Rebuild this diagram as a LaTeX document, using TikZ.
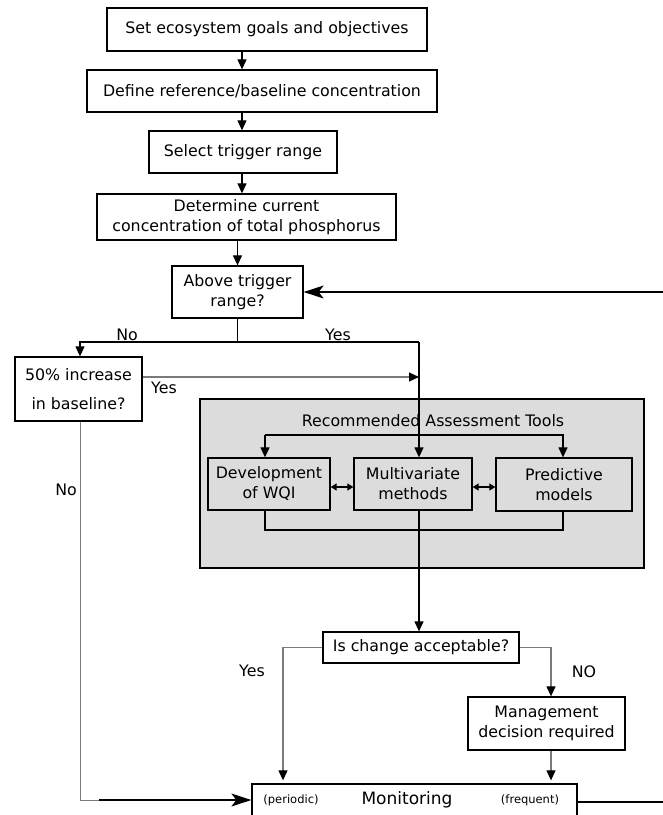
\documentclass[tikz,border=0pt]{standalone}
\usepackage{fontspec}
\setmainfont{DejaVu Sans}
\usetikzlibrary{arrows.meta,calc}
\definecolor{panelgray}{HTML}{DCDCDC}
\definecolor{linegray}{HTML}{7A7A7A}
\begin{document}
\begin{tikzpicture}[x=1pt,y=-1pt,
  box/.style={draw,line width=1.3pt,rectangle,inner sep=0pt,align=center,font=\fontsize{15.8}{20}\selectfont},
  sbox/.style={box,fill=panelgray},
  lbl/.style={inner sep=0pt,font=\fontsize{15.8}{18}\selectfont},
  arr/.style={line width=1.2pt,-{Triangle[length=10pt,width=9pt,color=black]}},
  bigarr/.style={line width=1.2pt,-{Stealth[length=20pt,width=13pt,inset=5pt,color=black]}},
  darr/.style={line width=1.2pt,{Triangle[length=6pt,width=7pt]}-{Triangle[length=6pt,width=7pt]}},
  gline/.style={draw=linegray,line width=1pt},
  plain/.style={line width=1.2pt}
]
\useasboundingbox (0,0) rectangle (663,815);
\clip (0,0) rectangle (663,815);

% top chain
\node[box,minimum width=320pt,minimum height=43pt] (b1) at (267,29.5) {Set ecosystem goals and objectives};
\node[box,minimum width=350pt,minimum height=42pt] (b2) at (262,91) {Define reference/baseline concentration};
\node[box,minimum width=188pt,minimum height=42pt] (b3) at (243,152) {Select trigger range};
\node[box,minimum width=299pt,minimum height=46pt] (b4) at (246.5,217) {Determine current\\concentration of total phosphorus};
\node[box,minimum width=131pt,minimum height=52pt] (b5) at (237.5,292) {Above trigger\\range?};
\node[box,minimum width=127pt,minimum height=64pt,font=\fontsize{15.8}{29}\selectfont] (b6) at (78.5,389) {50\% increase\\in baseline?};

% panel
\node[draw,line width=1.3pt,fill=panelgray,minimum width=444pt,minimum height=169pt,inner sep=0pt] (panel) at (422,483.5) {};
\node[lbl] (ptitle) at (433,421) {Recommended Assessment Tools};
\node[sbox,minimum width=122pt,minimum height=52pt] (wqi) at (269,484) {Development\\of WQI};
\node[sbox,minimum width=118pt,minimum height=52pt] (multi) at (413,484) {Multivariate\\methods};
\node[sbox,minimum width=136pt,minimum height=53pt] (pred) at (564,484.5) {Predictive\\models};

% lower part
\node[box,minimum width=196pt,minimum height=31pt] (ch) at (421,647.5) {Is change acceptable?};
\node[box,minimum width=157pt,minimum height=53pt] (mg) at (546.5,723.5) {Management\\decision required};
\node[draw,line width=1.3pt,minimum width=325pt,minimum height=46pt,inner sep=0pt] (mon) at (414.5,807) {};
\node[inner sep=0pt,font=\fontsize{11.5}{13}\selectfont] (mper) at (291,800) {(periodic)};
\node[inner sep=0pt,font=\fontsize{17}{19}\selectfont] (mtxt) at (407,800) {Monitoring};
\node[inner sep=0pt,font=\fontsize{11.5}{13}\selectfont] (mfreq) at (530,800) {(frequent)};

% coordinates
\coordinate (ax) at (242,0);
\coordinate (sp) at (237.5,342);
\coordinate (nL) at (80,342);
\coordinate (yR) at (419,342);
\coordinate (yy) at (0,377);
\coordinate (dl) at (265,435);
\coordinate (dr) at (563,435);
\coordinate (cb) at (0,530);
\coordinate (dy) at (0,487);
\coordinate (yx) at (283,0);
\coordinate (nx) at (551,0);
\coordinate (monY) at (0,800);
\coordinate (fbR) at (663,292);
\coordinate (exR) at (663,802);

% top chain arrows
\draw[arr] (b1.south -| ax) -- (b2.north -| ax);
\draw[arr] (b2.south -| ax) -- (b3.north -| ax);
\draw[arr] (b3.south -| ax) -- (b4.north -| ax);
\draw[arr] (b4.south -| b5.north) -- (b5.north);
\draw[bigarr] (fbR) -- (b5.east);

% split
\draw[plain] (b5.south) -- (sp);
\draw[arr] (yR) -- (nL) -- (b6.north -| nL);
\node[lbl] (lno1) at (127,335) {No};
\node[lbl] (lyes1) at (338,335) {Yes};
\draw[gline,arr] (b6.east |- yy) -- (yR |- yy);
\node[lbl] (lyes2) at (164,388) {Yes};

% main vertical
\draw[arr] (yR) -- (multi.north -| yR);
\draw[arr] (multi.south -| yR) -- (ch.north -| yR);

% distribution inside panel
\draw[arr] (dl) -- (wqi.north -| dl);
\draw[arr] (dl) -- (dr) -- (pred.north -| dr);
\draw[darr] (wqi.east |- dy) -- (multi.west |- dy);
\draw[darr] (multi.east |- dy) -- (pred.west |- dy);
\draw[plain] (wqi.south -| dl) -- (dl |- cb) -- (dr |- cb) -- (pred.south -| dr);

% decision branches
\draw[gline,arr] (ch.west) -- (ch.west -| yx) -- ($(mon.north -| yx)+(0,-3)$);
\node[lbl] (lyes3) at (252,671) {Yes};
\draw[gline,arr] (ch.east) -- (ch.east -| nx) -- (mg.north -| nx);
\node[lbl] (lno2) at (584,672) {NO};
\draw[gline,arr] (mg.south -| nx) -- ($(mon.north -| nx)+(0,-3)$);

% left No path
\draw[gline] (b6.south -| nL) -- (nL |- monY) -- ++(19,0);
\draw[bigarr] ($(nL |- monY)+(19,0)$) -- (mon.west |- monY);
\node[lbl] (lno3) at (66,490) {No};

% exit to right
\draw[plain] (mon.east |- exR) -- (exR);
\end{tikzpicture}
\end{document}
